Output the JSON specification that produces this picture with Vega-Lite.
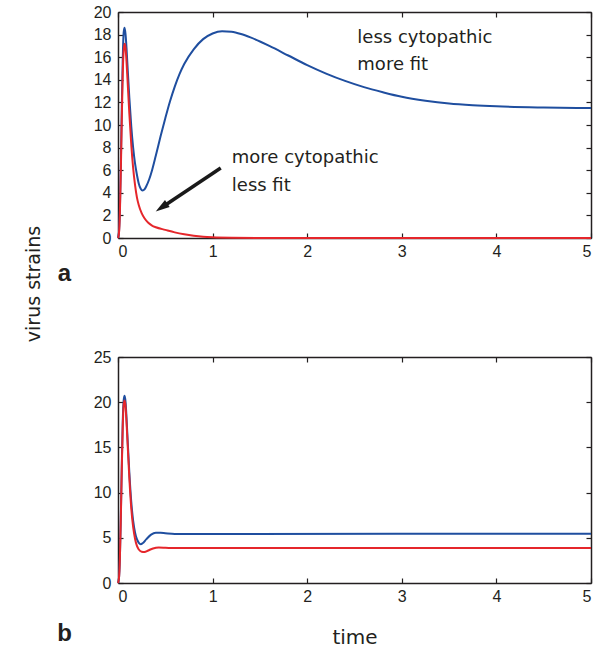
{
  "$schema": "https://vega.github.io/schema/vega-lite/v6.json",
  "padding": {"left": 24, "top": 4, "right": 3, "bottom": 2},
  "background": "white",
  "config": {
    "view": {"stroke": null},
    "axis": {
      "grid": false,
      "labelFont": "Liberation Sans",
      "labelFontSize": 16,
      "labelColor": "#231f20",
      "domainColor": "#231f20",
      "domainWidth": 1.5,
      "tickColor": "#231f20",
      "tickSize": -5,
      "tickWidth": 1.2,
      "titleFont": "DejaVu Sans",
      "titleFontSize": 19,
      "titleFontWeight": "normal",
      "titleColor": "#231f20"
    }
  },
  "datasets": {
    "a": [
      {"t": 0, "v": 0, "strain": "blue"},
      {"t": 0.01, "v": 0.5, "strain": "blue"},
      {"t": 0.02, "v": 2.5, "strain": "blue"},
      {"t": 0.03, "v": 6.5, "strain": "blue"},
      {"t": 0.04, "v": 11.5, "strain": "blue"},
      {"t": 0.05, "v": 15.8, "strain": "blue"},
      {"t": 0.06, "v": 18.2, "strain": "blue"},
      {"t": 0.07, "v": 18.6, "strain": "blue"},
      {"t": 0.08, "v": 18.0, "strain": "blue"},
      {"t": 0.09, "v": 16.8, "strain": "blue"},
      {"t": 0.1, "v": 15.3, "strain": "blue"},
      {"t": 0.12, "v": 12.4, "strain": "blue"},
      {"t": 0.14, "v": 9.9, "strain": "blue"},
      {"t": 0.16, "v": 8.0, "strain": "blue"},
      {"t": 0.18, "v": 6.6, "strain": "blue"},
      {"t": 0.2, "v": 5.6, "strain": "blue"},
      {"t": 0.22, "v": 4.8, "strain": "blue"},
      {"t": 0.24, "v": 4.35, "strain": "blue"},
      {"t": 0.26, "v": 4.2, "strain": "blue"},
      {"t": 0.28, "v": 4.3, "strain": "blue"},
      {"t": 0.3, "v": 4.6, "strain": "blue"},
      {"t": 0.33, "v": 5.2, "strain": "blue"},
      {"t": 0.36, "v": 6.0, "strain": "blue"},
      {"t": 0.4, "v": 7.3, "strain": "blue"},
      {"t": 0.45, "v": 9.0, "strain": "blue"},
      {"t": 0.5, "v": 10.6, "strain": "blue"},
      {"t": 0.55, "v": 12.1, "strain": "blue"},
      {"t": 0.6, "v": 13.4, "strain": "blue"},
      {"t": 0.65, "v": 14.5, "strain": "blue"},
      {"t": 0.7, "v": 15.4, "strain": "blue"},
      {"t": 0.8, "v": 16.7, "strain": "blue"},
      {"t": 0.9, "v": 17.6, "strain": "blue"},
      {"t": 1.0, "v": 18.1, "strain": "blue"},
      {"t": 1.1, "v": 18.3, "strain": "blue"},
      {"t": 1.2, "v": 18.25, "strain": "blue"},
      {"t": 1.3, "v": 18.05, "strain": "blue"},
      {"t": 1.4, "v": 17.75, "strain": "blue"},
      {"t": 1.6, "v": 17.0, "strain": "blue"},
      {"t": 1.8, "v": 16.15, "strain": "blue"},
      {"t": 2.0, "v": 15.3, "strain": "blue"},
      {"t": 2.2, "v": 14.55, "strain": "blue"},
      {"t": 2.4, "v": 13.9, "strain": "blue"},
      {"t": 2.6, "v": 13.35, "strain": "blue"},
      {"t": 2.8, "v": 12.9, "strain": "blue"},
      {"t": 3.0, "v": 12.5, "strain": "blue"},
      {"t": 3.25, "v": 12.15, "strain": "blue"},
      {"t": 3.5, "v": 11.9, "strain": "blue"},
      {"t": 3.75, "v": 11.75, "strain": "blue"},
      {"t": 4.0, "v": 11.65, "strain": "blue"},
      {"t": 4.5, "v": 11.55, "strain": "blue"},
      {"t": 5.0, "v": 11.5, "strain": "blue"},
      {"t": 0, "v": 0, "strain": "red"},
      {"t": 0.01, "v": 0.4, "strain": "red"},
      {"t": 0.02, "v": 2.2, "strain": "red"},
      {"t": 0.03, "v": 6.0, "strain": "red"},
      {"t": 0.04, "v": 10.5, "strain": "red"},
      {"t": 0.05, "v": 14.5, "strain": "red"},
      {"t": 0.06, "v": 16.6, "strain": "red"},
      {"t": 0.07, "v": 17.2, "strain": "red"},
      {"t": 0.08, "v": 16.8, "strain": "red"},
      {"t": 0.09, "v": 15.6, "strain": "red"},
      {"t": 0.1, "v": 14.1, "strain": "red"},
      {"t": 0.12, "v": 11.0, "strain": "red"},
      {"t": 0.14, "v": 8.3, "strain": "red"},
      {"t": 0.16, "v": 6.2, "strain": "red"},
      {"t": 0.18, "v": 4.7, "strain": "red"},
      {"t": 0.2, "v": 3.6, "strain": "red"},
      {"t": 0.22, "v": 2.9, "strain": "red"},
      {"t": 0.25, "v": 2.2, "strain": "red"},
      {"t": 0.28, "v": 1.75, "strain": "red"},
      {"t": 0.32, "v": 1.35, "strain": "red"},
      {"t": 0.36, "v": 1.1, "strain": "red"},
      {"t": 0.4, "v": 0.95, "strain": "red"},
      {"t": 0.5, "v": 0.72, "strain": "red"},
      {"t": 0.6, "v": 0.5, "strain": "red"},
      {"t": 0.7, "v": 0.33, "strain": "red"},
      {"t": 0.8, "v": 0.2, "strain": "red"},
      {"t": 0.9, "v": 0.11, "strain": "red"},
      {"t": 1.0, "v": 0.06, "strain": "red"},
      {"t": 1.2, "v": 0.02, "strain": "red"},
      {"t": 1.5, "v": 0.005, "strain": "red"},
      {"t": 2.0, "v": 0, "strain": "red"},
      {"t": 5.0, "v": 0, "strain": "red"}
    ],
    "b": [
      {"t": 0, "v": 0, "strain": "blue"},
      {"t": 0.01, "v": 0.5, "strain": "blue"},
      {"t": 0.02, "v": 2.8, "strain": "blue"},
      {"t": 0.03, "v": 7.5, "strain": "blue"},
      {"t": 0.04, "v": 13.0, "strain": "blue"},
      {"t": 0.05, "v": 17.8, "strain": "blue"},
      {"t": 0.06, "v": 20.2, "strain": "blue"},
      {"t": 0.07, "v": 20.7, "strain": "blue"},
      {"t": 0.08, "v": 20.0, "strain": "blue"},
      {"t": 0.09, "v": 18.3, "strain": "blue"},
      {"t": 0.1, "v": 16.2, "strain": "blue"},
      {"t": 0.12, "v": 12.2, "strain": "blue"},
      {"t": 0.14, "v": 9.0, "strain": "blue"},
      {"t": 0.16, "v": 6.9, "strain": "blue"},
      {"t": 0.18, "v": 5.6, "strain": "blue"},
      {"t": 0.2, "v": 4.85, "strain": "blue"},
      {"t": 0.22, "v": 4.45, "strain": "blue"},
      {"t": 0.24, "v": 4.3, "strain": "blue"},
      {"t": 0.26, "v": 4.4, "strain": "blue"},
      {"t": 0.3, "v": 4.85, "strain": "blue"},
      {"t": 0.35, "v": 5.35, "strain": "blue"},
      {"t": 0.4, "v": 5.55, "strain": "blue"},
      {"t": 0.45, "v": 5.55, "strain": "blue"},
      {"t": 0.5, "v": 5.5, "strain": "blue"},
      {"t": 0.6, "v": 5.42, "strain": "blue"},
      {"t": 0.8, "v": 5.42, "strain": "blue"},
      {"t": 1.0, "v": 5.43, "strain": "blue"},
      {"t": 5.0, "v": 5.45, "strain": "blue"},
      {"t": 0, "v": 0, "strain": "red"},
      {"t": 0.01, "v": 0.5, "strain": "red"},
      {"t": 0.02, "v": 2.7, "strain": "red"},
      {"t": 0.03, "v": 7.2, "strain": "red"},
      {"t": 0.04, "v": 12.6, "strain": "red"},
      {"t": 0.05, "v": 17.2, "strain": "red"},
      {"t": 0.06, "v": 19.7, "strain": "red"},
      {"t": 0.07, "v": 20.2, "strain": "red"},
      {"t": 0.08, "v": 19.5, "strain": "red"},
      {"t": 0.09, "v": 17.8, "strain": "red"},
      {"t": 0.1, "v": 15.7, "strain": "red"},
      {"t": 0.12, "v": 11.6, "strain": "red"},
      {"t": 0.14, "v": 8.3, "strain": "red"},
      {"t": 0.16, "v": 6.2, "strain": "red"},
      {"t": 0.18, "v": 4.9, "strain": "red"},
      {"t": 0.2, "v": 4.1, "strain": "red"},
      {"t": 0.22, "v": 3.7, "strain": "red"},
      {"t": 0.25, "v": 3.45, "strain": "red"},
      {"t": 0.28, "v": 3.42, "strain": "red"},
      {"t": 0.32, "v": 3.6, "strain": "red"},
      {"t": 0.37, "v": 3.82, "strain": "red"},
      {"t": 0.43, "v": 3.92, "strain": "red"},
      {"t": 0.5, "v": 3.9, "strain": "red"},
      {"t": 0.6, "v": 3.86, "strain": "red"},
      {"t": 0.8, "v": 3.86, "strain": "red"},
      {"t": 5.0, "v": 3.87, "strain": "red"}
    ],
    "labels": [
      {"t": 2.53, "v": 17.68, "text": "less cytopathic"},
      {"t": 2.53, "v": 15.32, "text": "more fit"},
      {"t": 1.203, "v": 7.07, "text": "more cytopathic"},
      {"t": 1.203, "v": 4.56, "text": "less fit"}
    ],
    "arrow": [
      {"t": 1.086, "v": 6.19, "t2": 0.505, "v2": 2.94}
    ],
    "head": [
      {"t": 0.46, "v": 2.7}
    ]
  },
  "bounds": "flush",
  "spacing": 119,
  "vconcat": [
    {
      "width": 473,
      "height": 226,
      "layer": [
        {
          "data": {"name": "a"},
          "mark": {"type": "line", "strokeWidth": 2, "interpolate": "monotone"},
          "encoding": {
            "x": {"field": "t", "type": "quantitative", "scale": {"domain": [0, 5], "nice": false},
              "axis": {"values": [0, 1, 2, 3, 4, 5], "labelPadding": 10, "title": "a", "titleX": -54, "titleY": 42,
                "titleFont": "Liberation Sans", "titleFontWeight": "bold", "titleFontSize": 24, "titleAngle": 0,
                "titleAlign": "center", "titleBaseline": "alphabetic"}},
            "y": {"field": "v", "type": "quantitative", "scale": {"domain": [0, 20], "nice": false},
              "axis": {"values": [0, 2, 4, 6, 8, 10, 12, 14, 16, 18, 20], "labelPadding": 12, "title": "virus strains",
                "titleX": -79, "titleY": 271.5, "titleAngle": -90, "titleAlign": "center", "titleBaseline": "alphabetic"}},
            "color": {"field": "strain", "type": "nominal", "scale": {"domain": ["blue", "red"], "range": ["#1f4e9f", "#e5262b"]}, "legend": null}
          }
        },
        {
          "data": {"name": "a"},
          "mark": {"type": "line", "opacity": 0},
          "encoding": {
            "x": {"field": "t", "type": "quantitative", "axis": {"orient": "top", "values": [0, 1, 2, 3, 4, 5], "labels": false, "title": null}},
            "y": {"field": "v", "type": "quantitative", "axis": {"orient": "right", "values": [0, 2, 4, 6, 8, 10, 12, 14, 16, 18, 20], "labels": false, "title": null}}
          }
        },
        {
          "data": {"name": "labels"},
          "mark": {"type": "text", "align": "left", "baseline": "middle", "font": "DejaVu Sans", "fontSize": 18, "color": "#231f20"},
          "encoding": {
            "x": {"field": "t", "type": "quantitative", "axis": null},
            "y": {"field": "v", "type": "quantitative", "axis": null},
            "text": {"field": "text"}
          }
        },
        {
          "data": {"name": "arrow"},
          "mark": {"type": "rule", "strokeWidth": 3.5, "color": "#1a1a1a"},
          "encoding": {
            "x": {"field": "t", "type": "quantitative", "axis": null},
            "y": {"field": "v", "type": "quantitative", "axis": null},
            "x2": {"field": "t2"},
            "y2": {"field": "v2"}
          }
        },
        {
          "data": {"name": "head"},
          "mark": {"type": "point", "shape": "M0,-1L0.6,1L-0.6,1Z", "filled": true, "size": 196, "angle": 236, "color": "#1a1a1a", "opacity": 1},
          "encoding": {
            "x": {"field": "t", "type": "quantitative", "axis": null},
            "y": {"field": "v", "type": "quantitative", "axis": null}
          }
        }
      ],
      "resolve": {"axis": {"x": "independent", "y": "independent"}}
    },
    {
      "width": 473,
      "height": 226,
      "layer": [
        {
          "data": {"name": "b"},
          "mark": {"type": "line", "strokeWidth": 2, "interpolate": "monotone"},
          "encoding": {
            "x": {"field": "t", "type": "quantitative", "scale": {"domain": [0, 5], "nice": false},
              "axis": {"values": [0, 1, 2, 3, 4, 5], "labelPadding": 10, "title": "time", "titleY": 60, "titleBaseline": "alphabetic", "titleFontSize": 20}},
            "y": {"field": "v", "type": "quantitative", "scale": {"domain": [0, 25], "nice": false},
              "axis": {"values": [0, 5, 10, 15, 20, 25], "labelPadding": 12, "title": "b", "titleX": -54, "titleY": 283,
                "titleFont": "Liberation Sans", "titleFontWeight": "bold", "titleFontSize": 24, "titleAngle": 0,
                "titleAlign": "center", "titleBaseline": "alphabetic"}},
            "color": {"field": "strain", "type": "nominal", "scale": {"domain": ["blue", "red"], "range": ["#1f4e9f", "#e5262b"]}, "legend": null}
          }
        },
        {
          "data": {"name": "b"},
          "mark": {"type": "line", "opacity": 0},
          "encoding": {
            "x": {"field": "t", "type": "quantitative", "axis": {"orient": "top", "values": [0, 1, 2, 3, 4, 5], "labels": false, "title": null}},
            "y": {"field": "v", "type": "quantitative", "axis": {"orient": "right", "values": [0, 5, 10, 15, 20, 25], "labels": false, "title": null}}
          }
        }
      ],
      "resolve": {"axis": {"x": "independent", "y": "independent"}}
    }
  ]
}
